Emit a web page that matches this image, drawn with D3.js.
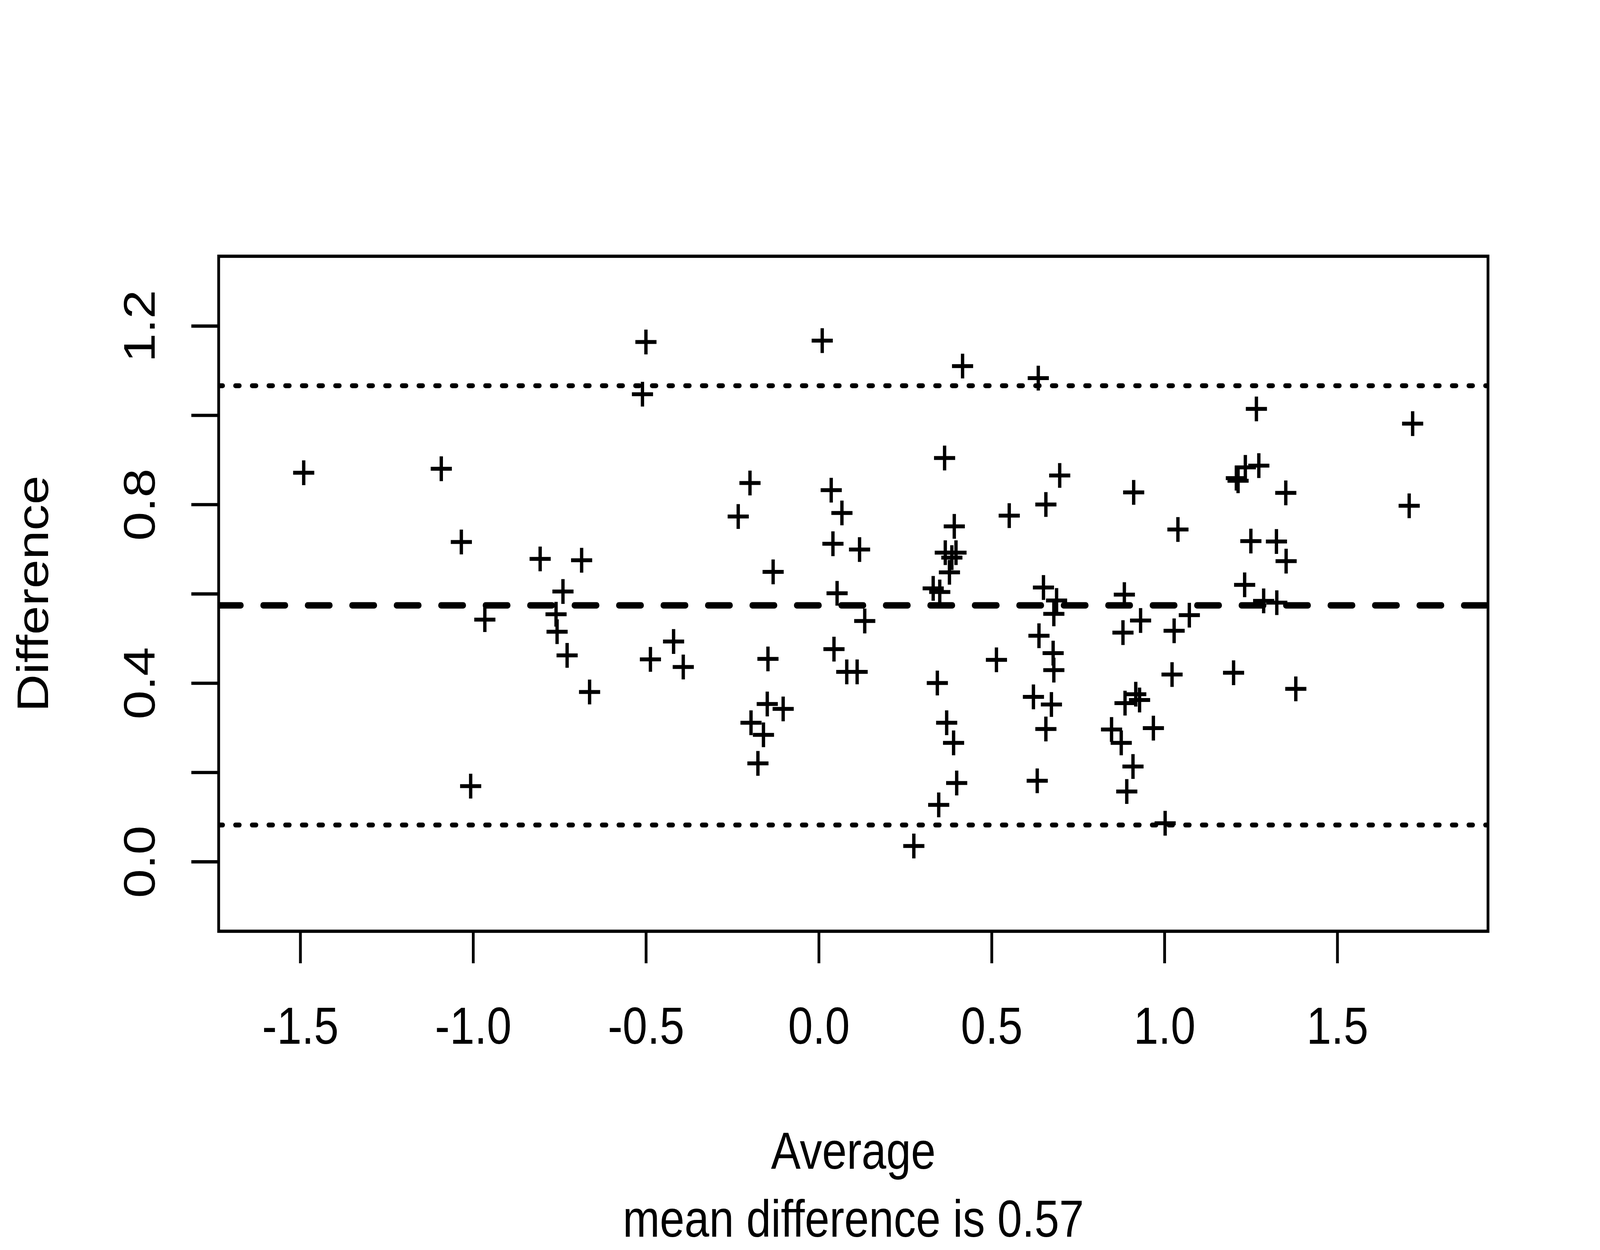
<!DOCTYPE html>
<html>
<head>
<meta charset="utf-8">
<script src="https://cdn.jsdelivr.net/npm/d3@7"></script>
<style>
  html, body { margin: 0; padding: 0; background: #fff; overflow: hidden; }
  svg { display: block; width: 100vw; height: 100vh; font-family: "Liberation Sans", Arial, Helvetica, sans-serif; }
</style>
</head>
<body>
<script>
// ---- data ----
const averages = [
  -1.490, -1.092, -1.034, -0.806, -0.686, -0.740, -0.966, -0.760, -0.757, -0.728,
  -0.663, -1.007, -0.500, -0.510, 0.010, 0.416, 0.364, -0.199, -0.233, 0.036,
  0.067, 0.041, 0.118, -0.132, 0.053, 0.392, 0.366, 0.397, 0.385, 0.378,
  0.551, 0.331, 0.350, 0.133, -0.420, -0.487, -0.392, -0.147, 0.044, 0.081,
  0.111, 0.343, -0.149, -0.103, -0.196, -0.160, -0.176, 0.370, 0.390, 0.399,
  0.347, 0.275, 0.514, 0.635, 1.266, 1.718, 1.234, 1.273, 1.208, 1.213,
  0.697, 0.657, 0.911, 1.351, 1.039, 1.708, 1.250, 1.324, 1.352, 0.650,
  0.884, 1.232, 0.688, 0.680, 1.287, 1.325, 0.931, 1.072, 0.880, 1.028,
  0.637, 0.678, 0.680, 1.022, 1.200, 1.380, 0.621, 0.673, 0.657, 0.632,
  0.886, 0.917, 0.928, 0.847, 0.875, 0.968, 0.909, 0.891, 1.002
];
const differences = [
  0.871, 0.880, 0.716, 0.678, 0.675, 0.605, 0.542, 0.554, 0.515, 0.462,
  0.380, 0.169, 1.164, 1.047, 1.167, 1.110, 0.904, 0.848, 0.773, 0.832,
  0.781, 0.712, 0.699, 0.649, 0.601, 0.751, 0.692, 0.692, 0.681, 0.648,
  0.775, 0.612, 0.604, 0.539, 0.493, 0.453, 0.436, 0.454, 0.476, 0.425,
  0.425, 0.400, 0.353, 0.342, 0.311, 0.284, 0.220, 0.311, 0.266, 0.176,
  0.127, 0.035, 0.452, 1.083, 1.014, 0.981, 0.883, 0.887, 0.859, 0.853,
  0.865, 0.800, 0.827, 0.826, 0.744, 0.797, 0.718, 0.717, 0.673, 0.614,
  0.598, 0.620, 0.585, 0.555, 0.584, 0.580, 0.540, 0.552, 0.513, 0.517,
  0.506, 0.467, 0.429, 0.419, 0.423, 0.387, 0.369, 0.352, 0.297, 0.181,
  0.355, 0.375, 0.362, 0.296, 0.266, 0.299, 0.213, 0.157, 0.086
];
const meanDifference = 0.574;
const lowerLimit = 0.082;
const upperLimit = 1.066;

const xLimits = [-1.6, 1.8];
const yLimits = [-0.1, 1.3];
const xTicks = [-1.5, -1.0, -0.5, 0.0, 0.5, 1.0, 1.5];
const yTicks = [0.0, 0.2, 0.4, 0.6, 0.8, 1.0, 1.2];
const yLabelled = [0.0, 0.4, 0.8, 1.2];

const xTitle = "Average";
const yTitle = "Difference";
const subTitle = "mean difference is 0.57";

// ---- layout ----
const W = 4800, H = 3200;
const plot = { left: 656, right: 4464, top: 656, bottom: 2384 };
const FS = 133.33;
const LWD = 8.33;

function extend(lim) { const r = lim[1] - lim[0]; return [lim[0] - 0.04 * r, lim[1] + 0.04 * r]; }

const x = d3.scaleLinear().domain(extend(xLimits)).range([plot.left, plot.right]);
const y = d3.scaleLinear().domain(extend(yLimits)).range([plot.bottom, plot.top]);

const svg = d3.select("body").append("svg")
  .attr("viewBox", `0 0 ${W} ${H}`)
  .attr("preserveAspectRatio", "none");

svg.append("rect").attr("width", W).attr("height", H).attr("fill", "#fff");

svg.append("defs").append("clipPath").attr("id", "plotclip")
  .append("rect")
  .attr("x", plot.left).attr("y", plot.top)
  .attr("width", plot.right - plot.left).attr("height", plot.bottom - plot.top);

// points (pch = 3)
const pts = averages.map((a, i) => ({ a, d: differences[i] }));
const arm = 31.7;
svg.append("g").attr("clip-path", "url(#plotclip)")
  .selectAll("path.pt").data(pts).enter().append("path")
  .attr("class", "pt")
  .attr("d", p => {
    const cx = x(p.a), cy = y(p.d);
    return `M${cx - arm},${cy}H${cx + arm}M${cx},${cy - arm}V${cy + arm}`;
  })
  .attr("fill", "none").attr("stroke", "#000").attr("stroke-width", 10)
  .attr("stroke-linecap", "butt");

// reference lines
const lines = svg.append("g").attr("clip-path", "url(#plotclip)");
[upperLimit, lowerLimit].forEach(v => {
  lines.append("line")
    .attr("x1", plot.left).attr("x2", plot.right)
    .attr("y1", y(v)).attr("y2", y(v))
    .attr("stroke", "#000").attr("stroke-width", 12.5)
    .attr("stroke-linecap", "round")
    .attr("stroke-dasharray", "12.5 37.5");
});
lines.append("line")
  .attr("x1", plot.left).attr("x2", plot.right)
  .attr("y1", y(meanDifference)).attr("y2", y(meanDifference))
  .attr("stroke", "#000").attr("stroke-width", 16.67)
  .attr("stroke-linecap", "round")
  .attr("stroke-dasharray", "66.7 66.7");

// box
svg.append("rect")
  .attr("x", plot.left).attr("y", plot.top)
  .attr("width", plot.right - plot.left).attr("height", plot.bottom - plot.top)
  .attr("fill", "none").attr("stroke", "#000").attr("stroke-width", LWD);

// x axis
const gx = svg.append("g").attr("transform", `translate(0,${plot.bottom})`)
  .call(d3.axisBottom(x).tickValues(xTicks).tickSize(82).tickFormat(d => d.toFixed(1)));
gx.select(".domain").remove();
gx.selectAll(".tick line").attr("stroke", "#000").attr("stroke-width", LWD);
gx.selectAll(".tick text")
  .attr("y", 2672 - plot.bottom).attr("dy", null)
  .attr("fill", "#000").attr("font-size", FS)
  .attr("font-family", "Liberation Sans, Arial, sans-serif");

// y axis
const gy = svg.append("g").attr("transform", `translate(${plot.left},0)`)
  .call(d3.axisLeft(y).tickValues(yTicks).tickSize(82)
    .tickFormat(d => yLabelled.some(v => Math.abs(v - d) < 1e-9) ? d.toFixed(1) : ""));
gy.select(".domain").remove();
gy.selectAll(".tick line").attr("stroke", "#000").attr("stroke-width", LWD);
gy.selectAll(".tick text")
  .attr("x", 0).attr("y", 0).attr("dy", null)
  .attr("transform", `translate(${464 - plot.left},0) rotate(-90)`)
  .attr("text-anchor", "middle")
  .attr("fill", "#000").attr("font-size", FS)
  .attr("font-family", "Liberation Sans, Arial, sans-serif");

// titles
const cxPlot = (plot.left + plot.right) / 2;
const cyPlot = (plot.top + plot.bottom) / 2;
svg.append("text").attr("x", cxPlot).attr("y", 2992)
  .attr("text-anchor", "middle").attr("font-size", FS).attr("fill", "#000")
  .text(xTitle);
svg.append("text").attr("x", cxPlot).attr("y", 3166)
  .attr("text-anchor", "middle").attr("font-size", FS).attr("fill", "#000")
  .text(subTitle);
svg.append("text")
  .attr("transform", `translate(144,${cyPlot}) rotate(-90)`)
  .attr("text-anchor", "middle").attr("font-size", FS).attr("fill", "#000")
  .text(yTitle);
</script>
</body>
</html>
